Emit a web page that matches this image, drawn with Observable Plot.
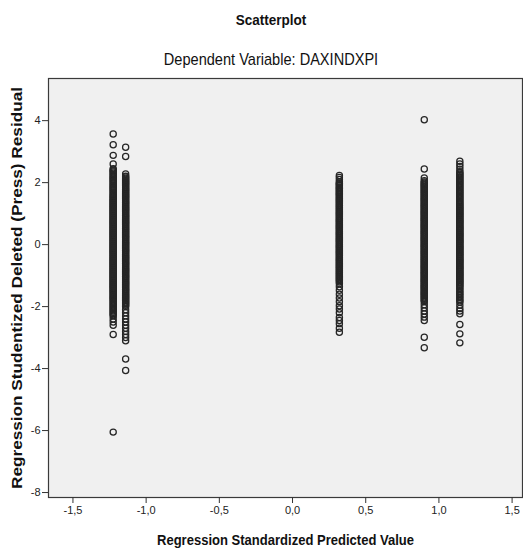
<!DOCTYPE html>
<html>
<head>
<meta charset="utf-8">
<script src="https://cdn.jsdelivr.net/npm/d3@7"></script>
<script src="https://cdn.jsdelivr.net/npm/@observablehq/plot@0.6"></script>
<style>
  html, body { margin: 0; padding: 0; background: #fff; }
  #wrap { position: relative; width: 523px; height: 548px; overflow: hidden;
          font-family: "Liberation Sans", Arial, sans-serif; color: #111; }
  .ttl { position: absolute; left: 271px; white-space: nowrap; line-height: 18px;
         transform: translateX(-50%) scaleX(0.9); }
  #title { top: 11px; font-size: 15px; font-weight: bold; }
  #subtitle { top: 50px; font-size: 16.2px; }
  #chart { position: absolute; left: 0; top: 70px; }
</style>
</head>
<body>
<div id="wrap">
  <div id="title" class="ttl">Scatterplot</div>
  <div id="subtitle" class="ttl">Dependent Variable: DAXINDXPI</div>
  <div id="chart"></div>
</div>
<script>
// ---- data ----
const xLabel = "Regression Standardized Predicted Value";
const yLabel = "Regression Studentized Deleted (Press) Residual";

const xTicks = [-1.5, -1.0, -0.5, 0.0, 0.5, 1.0, 1.5];
const yTicks = [-8, -6, -4, -2, 0, 2, 4];

// standardized predicted value of each vertical column
const predicted = [-1.225, -1.14, 0.32, 0.90, 1.143];

// studentized deleted residuals in each column
const residA = [3.57, 3.22, 2.88, 2.6, 2.45, 2.38, 2.3, 2.22, 2.15, 2.08, 2.0, 1.92, 1.85, 1.78, 1.7, 1.62,
  1.55, 1.48, 1.42, 1.36, 1.3, 1.24, 1.18, 1.12, 1.06, 1.0, 0.94, 0.88, 0.82, 0.76, 0.7, 0.64, 0.58,
  0.52, 0.46, 0.4, 0.34, 0.28, 0.22, 0.16, 0.1, 0.04, -0.02, -0.08, -0.14, -0.2, -0.26, -0.32, -0.38,
  -0.44, -0.5, -0.56, -0.62, -0.68, -0.74, -0.8, -0.86, -0.92, -0.98, -1.04, -1.1, -1.16, -1.22, -1.28,
  -1.34, -1.4, -1.47, -1.54, -1.61, -1.68, -1.75, -1.82, -1.9, -1.98, -2.06, -2.14, -2.22, -2.3, -2.4,
  -2.5, -2.6, -2.9, -6.05];
const residA2 = [2.41, 2.34, 2.26, 2.18, 2.11, 2.04, 1.96, 1.88, 1.81, 1.74, 1.66, 1.58, 1.51, 1.45, 1.39,
  1.33, 1.27, 1.21, 1.15, 1.09, 1.03, 0.97, 0.91, 0.85, 0.79, 0.73, 0.67, 0.61, 0.55, 0.49, 0.43, 0.37,
  0.31, 0.25, 0.19, 0.13, 0.07, 0.01, -0.05, -0.11, -0.17, -0.23, -0.29, -0.35, -0.41, -0.47, -0.53,
  -0.59, -0.65, -0.71, -0.77, -0.83, -0.89, -0.95, -1.01, -1.07, -1.13, -1.19, -1.25, -1.31, -1.37,
  -1.43, -1.5, -1.57, -1.64, -1.71, -1.78, -1.86, -1.94, -2.02, -2.1, -2.18, -2.26];
const residB = [3.14, 2.84, 2.28, 2.21, 2.14, 2.07, 2.0, 1.93, 1.86, 1.79, 1.72, 1.65, 1.58, 1.51, 1.44,
  1.37, 1.3, 1.23, 1.16, 1.09, 1.02, 0.95, 0.88, 0.81, 0.74, 0.67, 0.6, 0.53, 0.46, 0.39, 0.32, 0.25,
  0.18, 0.11, 0.04, -0.03, -0.1, -0.17, -0.24, -0.31, -0.38, -0.45, -0.52, -0.59, -0.66, -0.73, -0.8,
  -0.87, -0.94, -1.01, -1.08, -1.15, -1.22, -1.29, -1.36, -1.43, -1.5, -1.57, -1.64, -1.71, -1.78, -1.85,
  -1.92, -2.0, -2.1, -2.2, -2.3, -2.4, -2.5, -2.6, -2.7, -2.8, -2.9, -3.0, -3.1, -3.69, -4.06];
const residB2 = [2.18, 2.11, 2.04, 1.97, 1.9, 1.83, 1.76, 1.69, 1.62, 1.55, 1.48, 1.41, 1.34, 1.27, 1.2,
  1.13, 1.06, 0.99, 0.92, 0.85, 0.78, 0.71, 0.64, 0.57, 0.5, 0.43, 0.36, 0.29, 0.22, 0.15, 0.08, 0.01,
  -0.06, -0.13, -0.2, -0.27, -0.34, -0.41, -0.48, -0.55, -0.62, -0.69, -0.76, -0.83, -0.9, -0.97, -1.04,
  -1.11, -1.18, -1.25, -1.32, -1.39, -1.46, -1.53, -1.6, -1.67, -1.74, -1.81, -1.88, -1.96];
const residC = [2.23, 2.17, 2.1, 2.03, 1.96, 1.9, 1.83, 1.76, 1.7, 1.63, 1.56, 1.49, 1.42, 1.35, 1.28,
  1.21, 1.14, 1.07, 1.0, 0.93, 0.86, 0.79, 0.72, 0.65, 0.58, 0.51, 0.44, 0.37, 0.3, 0.23, 0.16, 0.09,
  0.02, -0.05, -0.12, -0.19, -0.26, -0.33, -0.4, -0.47, -0.54, -0.61, -0.68, -0.75, -0.82, -0.89, -0.96,
  -1.03, -1.1, -1.17, -1.26, -1.36, -1.47, -1.6, -1.72, -1.84, -1.97, -2.08, -2.2, -2.35, -2.45, -2.55,
  -2.7, -2.83];
const residC2 = [1.99, 1.93, 1.86, 1.8, 1.73, 1.66, 1.6, 1.53, 1.46, 1.39, 1.32, 1.25, 1.18, 1.11, 1.04,
  0.97, 0.9, 0.83, 0.76, 0.69, 0.62, 0.55, 0.48, 0.41, 0.34, 0.27, 0.2, 0.13, 0.06, -0.01, -0.08, -0.15,
  -0.22, -0.29, -0.36, -0.43, -0.5, -0.57, -0.64, -0.71, -0.78, -0.85, -0.92, -0.99, -1.06, -1.13, -1.21];
const residD = [4.03, 2.44, 2.15, 2.06, 1.99, 1.92, 1.85, 1.78, 1.71, 1.64, 1.57, 1.5, 1.43, 1.36, 1.29,
  1.22, 1.15, 1.08, 1.01, 0.94, 0.87, 0.8, 0.73, 0.66, 0.59, 0.52, 0.45, 0.38, 0.31, 0.24, 0.17, 0.1,
  0.03, -0.04, -0.11, -0.18, -0.25, -0.32, -0.39, -0.46, -0.53, -0.6, -0.67, -0.74, -0.81, -0.88, -0.95,
  -1.02, -1.09, -1.16, -1.23, -1.3, -1.37, -1.44, -1.51, -1.58, -1.65, -1.72, -1.8, -1.84, -1.94, -2.04,
  -2.14, -2.24, -2.34, -2.45, -2.99, -3.33];
const residD2 = [2.02, 1.95, 1.88, 1.81, 1.74, 1.67, 1.6, 1.53, 1.46, 1.39, 1.32, 1.25, 1.18, 1.11, 1.04,
  0.97, 0.9, 0.83, 0.76, 0.69, 0.62, 0.55, 0.48, 0.41, 0.34, 0.27, 0.2, 0.13, 0.06, -0.01, -0.08, -0.15,
  -0.22, -0.29, -0.36, -0.43, -0.5, -0.57, -0.64, -0.71, -0.78, -0.85, -0.92, -0.99, -1.06, -1.13, -1.2,
  -1.27, -1.34, -1.41, -1.48, -1.55, -1.62, -1.69, -1.76];
const residE = [2.69, 2.6, 2.52, 2.43, 2.35, 2.27, 2.19, 2.11, 2.03, 1.95, 1.87, 1.79, 1.71, 1.63, 1.55,
  1.47, 1.39, 1.31, 1.24, 1.17, 1.1, 1.03, 0.96, 0.89, 0.82, 0.75, 0.68, 0.61, 0.54, 0.47, 0.4, 0.33,
  0.26, 0.19, 0.12, 0.05, -0.02, -0.09, -0.16, -0.23, -0.3, -0.37, -0.44, -0.51, -0.58, -0.65, -0.72,
  -0.79, -0.86, -0.93, -1.0, -1.07, -1.14, -1.21, -1.28, -1.36, -1.46, -1.56, -1.66, -1.76, -1.86, -1.96,
  -2.06, -2.14, -2.23, -2.58, -2.88, -3.17];
const residE2 = [2.31, 2.23, 2.15, 2.07, 1.99, 1.91, 1.83, 1.75, 1.67, 1.59, 1.51, 1.43, 1.35, 1.28, 1.21,
  1.14, 1.07, 1.0, 0.93, 0.86, 0.79, 0.72, 0.65, 0.58, 0.51, 0.44, 0.37, 0.3, 0.23, 0.16, 0.09, 0.02,
  -0.05, -0.12, -0.19, -0.26, -0.33, -0.4, -0.47, -0.54, -0.61, -0.68, -0.75, -0.82, -0.89, -0.96, -1.03,
  -1.1, -1.17, -1.24, -1.32, -1.41, -1.51, -1.61, -1.71, -1.81];

const residuals = [residA.concat(residA2), residB.concat(residB2), residC.concat(residC2),
                   residD.concat(residD2), residE.concat(residE2)];
const points = residuals.flatMap((arr, i) => arr.map(r => ({x: predicted[i], y: r})));

const fmtX = d => d.toFixed(1).replace(".", ",");

const chart = Plot.plot({
  width: 523,
  height: 478,
  marginTop: 8,
  marginBottom: 51,
  marginLeft: 48,
  marginRight: 1,
  style: {fontFamily: "'Liberation Sans', Arial, sans-serif", fontSize: "11px", color: "#222", background: "transparent", overflow: "visible"},
  x: {domain: [-1.667, 1.571]},
  y: {domain: [-8.16, 5.36]},
  marks: [
    Plot.frame({fill: "#f0f0f0", stroke: "none"}),
    Plot.dot(points, {x: "x", y: "y", r: 3.1, stroke: "#262626", strokeWidth: 1.25, fill: "none"}),
    Plot.frame({stroke: "#3a3a3a", strokeWidth: 1.2}),
    Plot.axisX({ticks: xTicks, tickFormat: fmtX, tickSize: 6, tickPadding: 3, label: null, stroke: "#333"}),
    Plot.axisY({ticks: yTicks, tickFormat: d => String(d), tickSize: 6, tickPadding: 2, label: null, stroke: "#333"}),
    Plot.text([xLabel], {frameAnchor: "bottom", dy: 47, lineAnchor: "bottom", textAnchor: "middle", fontSize: 15, fontWeight: "bold", fill: "#111"}),
    Plot.text([yLabel], {frameAnchor: "left", rotate: -90, dx: -31, textAnchor: "middle", fontSize: 15, fontWeight: "bold", fill: "#111"})
  ]
});
document.getElementById("chart").appendChild(chart);

// horizontal compression of text like the reference
chart.querySelectorAll("text").forEach(t => {
  if (t.textContent === xLabel) { t.setAttribute("textLength", 257); t.setAttribute("lengthAdjust", "spacingAndGlyphs"); }
  if (t.textContent === yLabel) { t.setAttribute("textLength", 402); t.setAttribute("lengthAdjust", "spacingAndGlyphs"); }
});
</script>
</body>
</html>
